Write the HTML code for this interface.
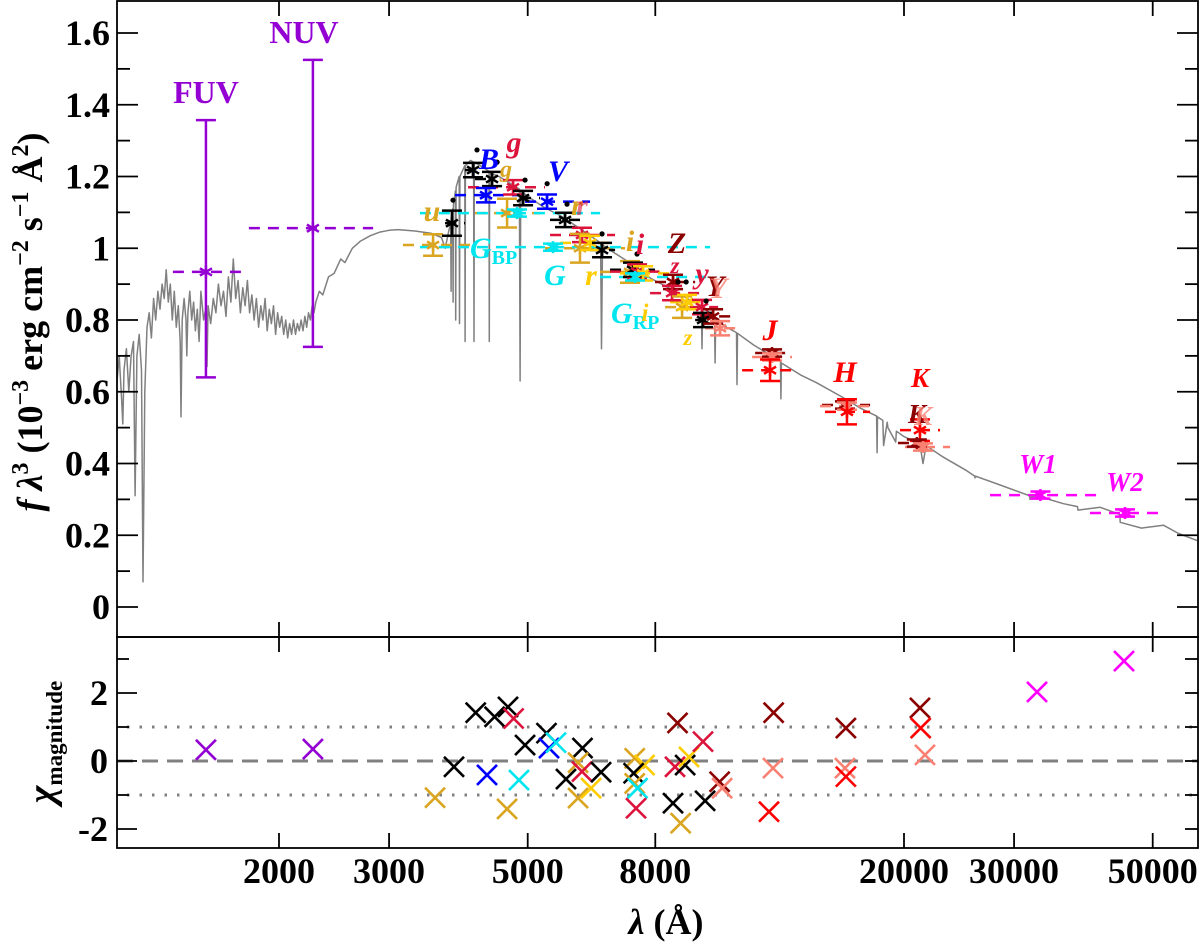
<!DOCTYPE html>
<html><head><meta charset="utf-8"><title>SED fit</title>
<style>
html,body{margin:0;padding:0;background:#fff;}
svg{display:block;font-family:"Liberation Serif","DejaVu Serif",serif;}
</style></head>
<body>
<svg id="chart" width="1200" height="944" viewBox="0 0 1200 944" xmlns="http://www.w3.org/2000/svg">
<defs><clipPath id="topclip"><rect x="117" y="1" width="1081" height="636"/></clipPath></defs>
<g id="spec" clip-path="url(#topclip)"></g>
<g id="bands"></g>
<g id="phot"></g>
<g id="dots"></g>
<g id="resid"></g>
<g id="axes"></g>
<g id="labels" font-weight="bold" font-size="30">
  <text x="206" y="103" fill="#9400D3" text-anchor="middle" font-size="32">FUV</text>
  <text x="304" y="43" fill="#9400D3" text-anchor="middle" font-size="32">NUV</text>
  <text x="432" y="221" fill="#DAA520" text-anchor="middle" font-style="italic">u</text>
  <text x="489" y="169" fill="#0000FF" text-anchor="middle" font-style="italic">B</text>
  <text x="514" y="152" fill="#DC143C" text-anchor="middle" font-style="italic">g</text>
  <text x="506" y="177" fill="#DAA520" text-anchor="middle" font-style="italic" font-size="24">g</text>
  <text x="558" y="181" fill="#0000FF" text-anchor="middle" font-style="italic">V</text>
  <text x="577" y="215" fill="#DAA520" text-anchor="middle" font-style="italic">r</text>
  <text x="582" y="215" fill="#DC143C" text-anchor="middle" font-style="italic" opacity="0.6">r</text>
  <text x="470" y="258" fill="#00E5EE" font-style="italic">G<tspan font-style="normal" font-size="20" dy="6">BP</tspan></text>
  <text x="555" y="285" fill="#00E5EE" text-anchor="middle" font-style="italic">G</text>
  <text x="591" y="285" fill="#FFCC00" text-anchor="middle" font-style="italic">r</text>
  <text x="630" y="251" fill="#DAA520" text-anchor="middle" font-style="italic">i</text>
  <text x="640" y="254" fill="#DC143C" text-anchor="middle" font-style="italic">i</text>
  <text x="677" y="253" fill="#8B0000" text-anchor="middle" font-style="italic">Z</text>
  <text x="675" y="273" fill="#DC143C" text-anchor="middle" font-style="italic" font-size="23">z</text>
  <text x="702" y="283" fill="#DC143C" text-anchor="middle" font-style="italic">y</text>
  <text x="715" y="296" fill="#8B0000" text-anchor="middle" font-style="italic">Y</text>
  <text x="718" y="298" fill="#FA8072" text-anchor="middle" font-style="italic" opacity="0.8">Y</text>
  <text x="611" y="323" fill="#00E5EE" font-style="italic">G<tspan font-style="normal" font-size="20" dy="6">RP</tspan></text>
  <text x="645" y="321" fill="#FFCC00" text-anchor="middle" font-style="italic" font-size="25">i</text>
  <text x="688" y="345" fill="#FFCC00" text-anchor="middle" font-style="italic" font-size="23">z</text>
  <text x="770" y="340" fill="#FF0000" text-anchor="middle" font-style="italic">J</text>
  <text x="845" y="382" fill="#FF0000" text-anchor="middle" font-style="italic">H</text>
  <text x="920" y="387" fill="#FF0000" text-anchor="middle" font-style="italic" font-size="27">K</text>
  <text x="917" y="423" fill="#8B0000" text-anchor="middle" font-style="italic" font-size="27">K</text>
  <text x="923" y="425" fill="#FA8072" text-anchor="middle" font-style="italic" font-size="27" opacity="0.8">K</text>
  <text x="1038" y="473" fill="#FF00FF" text-anchor="middle" font-style="italic" font-size="27">W1</text>
  <text x="1125" y="491" fill="#FF00FF" text-anchor="middle" font-style="italic" font-size="27">W2</text>
</g>
<text transform="translate(42,322) rotate(-90)" text-anchor="middle" font-size="36" font-weight="bold"><tspan font-style="italic">f λ</tspan><tspan font-size="24" dy="-14">3</tspan><tspan dy="14"> (10</tspan><tspan font-size="24" dy="-14">−3</tspan><tspan dy="14"> erg cm</tspan><tspan font-size="24" dy="-14">−2</tspan><tspan dy="14"> s</tspan><tspan font-size="24" dy="-14">−1</tspan><tspan dy="14"> Å</tspan><tspan font-size="24" dy="-14">2</tspan><tspan dy="14">)</tspan></text>
<text transform="translate(54,742) rotate(-90)" text-anchor="middle" font-size="38" font-weight="bold"><tspan font-style="italic">χ</tspan><tspan font-size="23" dy="8">magnitude</tspan></text>
<text x="666" y="934" text-anchor="middle" font-size="36" font-weight="bold"><tspan font-style="italic">λ</tspan> (Å)</text>
</svg>
<script>
// ---- model spectrum ----
const specLam = [1100,1110,1120,1125,1130,1140,1150,1160,1170,1177,1185,1195,1205,1212,1220,1230,1240,1250,1260,1270,1280,1290,1300,1310,1320,1330,1340,1350,1360,1370,1380,1390,1394,1400,1410,1420,1424,1430,1440,1450,1460,1470,1480,1490,1500,1515,1530,1534,1540,1555,1570,1585,1600,1615,1630,1645,1660,1675,1690,1705,1720,1735,1750,1765,1780,1795,1810,1825,1840,1855,1870,1885,1900,1915,1930,1945,1960,1975,1990,2005,2020,2035,2050,2065,2080,2095,2110,2125,2140,2155,2170,2185,2200,2215,2230,2245,2260,2275,
2290,2320,2350,2400,2450,2510,2550,2620,2700,2800,2900,3000,3100,3300,3500,3640,3690,3740,3765,3770,3775,3793,3798,3803,3830,3835,3840,3884,3889,3894,3965,3970,3975,4050,4097,4102,4107,4200,4335,4340,4345,4500,4850,4861,4872,5000,5300,5650,6000,6540,6563,6586,6700,7200,7850,8500,9000,9480,9503,9526,9950,9973,9996,10400,10790,10810,10830,11500,12690,12710,12730,13660,14500,16200,17000,18080,18110,18140,18500,18550,18800,18850,19400,19450,20000,21200,21450,21700,23000,25200,25950,25980,26010,28500,31780,31810,31840,33060,36000,37900,37950,41200,44300,44350,48000,52000,55000,58900];
const specFlux = [.62,.70,.58,.51,.66,.72,.60,.70,.74,.31,.70,.76,.66,.07,.60,.78,.82,.75,.86,.80,.88,.83,.90,.86,.94,.85,.90,.80,.88,.78,.84,.74,.53,.80,.86,.80,.70,.82,.88,.80,.85,.77,.83,.74,.88,.80,.84,.67,.84,.79,.86,.82,.90,.84,.88,.81,.92,.85,.97,.86,.91,.82,.89,.84,.91,.82,.87,.80,.86,.78,.84,.80,.86,.77,.83,.79,.84,.76,.82,.78,.81,.76,.80,.75,.79,.76,.80,.76,.79,.77,.80,.77,.81,.78,.82,.80,.84,.82,
.85,.88,.87,.92,.93,.97,.96,1.0,1.02,1.035,1.045,1.05,1.052,1.048,1.042,1.03,1.0,1.05,1.07,.88,1.08,1.11,.85,1.12,1.16,.80,1.17,1.2,.79,1.2,1.23,.74,1.23,1.245,1.24,.74,1.24,1.23,1.215,.74,1.21,1.2,1.165,.63,1.16,1.145,1.115,1.09,1.06,1.015,.72,1.01,1.0,.965,.917,.885,.86,.838,.72,.835,.81,.68,.805,.78,.765,.62,.763,.73,.685,.58,.68,.647,.625,.578,.555,.532,.43,.53,.52,.45,.515,.50,.46,.49,.475,.455,.40,.45,.42,.38,.365,.36,.365,.34,.31,.30,.307,.307,.288,.28,.27,.278,.258,.236,.22,.228,.205,.185,.175,.165];

// ---- photometry ----
const photLam  = [1528,2266,3528,3782,4088,4384,4288,4634,4737,4915,4806,5369,5737,6107,6062,5488,6291,6575,7289,7370,7480,7647,7425,8540,8510,8830,8990,9503,9538,9898,10157,12300,12300,12210,16090,16210,16210,21210,20970,21450,33060,45150];
const photFlux = [.934,1.056,1.009,1.07,1.218,1.193,1.148,1.098,1.17,1.14,1.098,1.13,1.079,1.037,1.0,1.003,1.015,.995,.934,.94,.935,.93,.92,.906,.875,.836,.85,.836,.80,.81,.777,.708,.697,.66,.563,.56,.544,.493,.457,.446,.312,.262];
const photErrLo = [.294,.331,.03,.035,.02,.02,.02,.04,.02,.02,.01,.02,.02,.02,.04,.01,.02,.02,.03,.02,.02,.02,.01,.02,.02,.03,.02,.02,.02,.02,.02,.01,.01,.03,.01,.01,.035,.03,.01,.01,.01,.01];
const photErrHi = [.423,.469,.03,.035,.02,.02,.02,.04,.02,.02,.01,.02,.02,.02,.04,.01,.02,.02,.03,.02,.02,.02,.01,.02,.02,.03,.02,.02,.02,.02,.02,.01,.01,.03,.01,.01,.035,.03,.01,.01,.01,.01];
const bandLo = [1353,1790,3158,3687,3969,4118,3825,4118,4013,4860,3361,4951,5428,5428,5329,3361,5632,6291,6528,6772,6772,7026,6528,7993,7848,8294,8448,9096,9265,9437,9612,11557,11430,11016,14786,14677,14950,19708,19561,20074,27462,39680];
const bandHi = [1784,2829,4042,3969,4118,4384,4860,5232,5329,5232,6528,6291,6075,6898,7157,9791,6898,6898,8142,7993,8294,8448,9791,9265,9437,9437,9612,10084,9791,10540,10736,13141,13238,13534,17650,17978,17650,22840,22424,23697,40868,52326];
const photColor = ["#9400D3","#9400D3","#DAA520","#000000","#000000","#000000","#0000FF","#DAA520","#DC143C","#000000","#00E5EE","#0000FF","#000000","#DC143C","#DAA520","#00E5EE","#FFCC00","#000000","#DAA520","#000000","#DC143C","#FFCC00","#00E5EE","#8B0000","#DC143C","#DAA520","#FFCC00","#DC143C","#000000","#8B0000","#FA8072","#8B0000","#FA8072","#FF0000","#8B0000","#FA8072","#FF0000","#FF0000","#8B0000","#FA8072","#FF00FF","#FF00FF"];

// ---- model synthetic photometry dots ----
const dotLam  = [3797,4148,4467,4951,5371,5779,6575,7480,8700,8963,9648];
const dotFlux = [1.134,1.274,1.24,1.19,1.18,1.123,1.04,.984,.906,.906,.853];

// ---- residuals ----
const chiLam = [1528,2266,3554,3811,4128,4426,4650,4747,4304,4634,4951,4842,5358,5408,5549,6118,5757,6019,6107,6019,6315,6552,7416,7689,7387,7416,7494,7452,8683,8603,8930,9058,9538,8540,8783,9612,10140,10234,12372,12343,12163,16145,16090,16145,21210,21268,21608,32646,44982];
const chiVal = [.33,.35,-1.08,-.17,1.42,1.3,1.59,1.25,-.41,-1.41,.47,-.56,.82,.38,.54,.38,-.53,-.05,-.31,-1.09,-.8,-.33,.08,-.12,-.36,-.66,-.8,-1.39,1.12,-.17,-.12,.12,.57,-1.24,-1.83,-1.17,-.61,-.8,1.42,-.21,-1.49,.97,-.21,-.46,1.56,.97,.18,2.03,2.94];
const chiColor = ["#9400D3","#9400D3","#DAA520","#000000","#000000","#000000","#000000","#DC143C","#0000FF","#DAA520","#000000","#00E5EE","#000000","#0000FF","#00E5EE","#000000","#000000","#DAA520","#DC143C","#DAA520","#FFCC00","#000000","#DAA520","#FFCC00","#000000","#DAA520","#00E5EE","#DC143C","#8B0000","#DC143C","#000000","#FFCC00","#DC143C","#000000","#DAA520","#000000","#8B0000","#FA8072","#8B0000","#FA8072","#FF0000","#8B0000","#FA8072","#FF0000","#8B0000","#FF0000","#FA8072","#FF00FF","#FF00FF"];

// ---- ticks ----
const xTicks = [2000,3000,5000,8000,20000,30000,50000];
const xTickLabels = ["2000","3000","5000","8000","20000","30000","50000"];
const yTicks = [0,0.2,0.4,0.6,0.8,1,1.2,1.4,1.6];
const yTickLabels = ["0","0.2","0.4","0.6","0.8","1","1.2","1.4","1.6"];
const chiTicks = [-2,0,2];
const chiTickLabels = ["-2","0","2"];

const NS = "http://www.w3.org/2000/svg";
const L = 117, R = 1198, T = 1, MID = 637, B = 848;
function X(l){ return 279 + 625*(Math.log10(l) - Math.log10(2000)); }
function Y(f){ return 607 - 358.75*f; }
function C(c){ return 761 - 34*c; }
function mk(tag, attrs, parent){
  const e = document.createElementNS(NS, tag);
  for (const k in attrs) e.setAttribute(k, attrs[k]);
  parent.appendChild(e); return e;
}
const gSpec = document.getElementById('spec'), gBands = document.getElementById('bands'),
      gPhot = document.getElementById('phot'), gDots = document.getElementById('dots'),
      gRes = document.getElementById('resid'), gAx = document.getElementById('axes');

{
  const n = Math.min(specLam.length, specFlux.length);
  let d = "";
  for (let i = 0; i < n; i++) d += (i ? "L" : "M") + X(specLam[i]).toFixed(1) + "," + Y(specFlux[i]).toFixed(1);
  const p = mk('path', {d:d, fill:'none', stroke:'#808080', 'stroke-width':1.5, 'stroke-linejoin':'round'}, gSpec);
  
  
}
for (let i = 0; i < photLam.length; i++){
  const col = photColor[i], x = X(photLam[i]), y = Y(photFlux[i]);
  const b = mk('line', {x1:X(bandLo[i]), x2:X(bandHi[i]), y1:y, y2:y, stroke:col, 'stroke-width':2.5, 'stroke-dasharray':'11 8'}, gBands);
  
  
  const g = mk('g', {stroke:col, 'stroke-width':2.5, fill:'none'}, gPhot);
  
  
  const yl = Y(photFlux[i]-photErrLo[i]), yh = Y(photFlux[i]+photErrHi[i]);
  const cw = 10;
  mk('line', {x1:x, x2:x, y1:yl, y2:yh}, g);
  mk('line', {x1:x-cw, x2:x+cw, y1:yl, y2:yl}, g);
  mk('line', {x1:x-cw, x2:x+cw, y1:yh, y2:yh}, g);
  const s = 6;
  mk('line', {x1:x-s, x2:x+s, y1:y-s*0.6, y2:y+s*0.6}, g);
  mk('line', {x1:x-s, x2:x+s, y1:y+s*0.6, y2:y-s*0.6}, g);
  mk('line', {x1:x, x2:x, y1:y-s, y2:y+s}, g);
}
for (let i = 0; i < dotLam.length; i++){
  const c = mk('circle', {cx:X(dotLam[i]), cy:Y(dotFlux[i]), r:2.6, fill:'#000'}, gDots);
  
  
}
{
  const z = mk('line', {x1:L, x2:R, y1:C(0), y2:C(0), stroke:'#808080', 'stroke-width':3, 'stroke-dasharray':'16 9'}, gRes);
  
  
  for (const v of [1,-1]){
    const d = mk('line', {x1:L+10, x2:R, y1:C(v), y2:C(v), stroke:'#808080', 'stroke-width':3, 'stroke-dasharray':'2.5 10'}, gRes);
    
    
  }
}
for (let i = 0; i < chiLam.length; i++){
  const x = X(chiLam[i]), y = C(chiVal[i]), h = 10;
  const g = mk('g', {stroke:chiColor[i], 'stroke-width':2.6}, gRes);
  
  
  mk('line', {x1:x-h, y1:y-h, x2:x+h, y2:y+h}, g);
  mk('line', {x1:x-h, y1:y+h, x2:x+h, y2:y-h}, g);
}
for (const [y1,y2] of [[T,MID],[MID,B]]){
  const r = mk('rect', {x:L, y:y1, width:R-L, height:y2-y1, fill:'none', stroke:'#000', 'stroke-width':1.8}, gAx);
  
  
}
xTicks.forEach((v,i)=>{
  const x = X(v);
  for (const [y0,dir] of [[T,1],[MID,-1],[MID,1],[B,-1]])
    mk('line', {x1:x, x2:x, y1:y0, y2:y0+dir*15, stroke:'#000', 'stroke-width':1.8}, gAx);
  const t = mk('text', {x:x, y:883, 'text-anchor':'middle', 'font-size':36, 'font-weight':'bold'}, gAx);
  
  
  t.textContent = xTickLabels[i];
});
for (let k = 0; k <= 16; k++){
  const v = k/10, y = Y(v), len = (k%2===0)?21:13;
  mk('line', {x1:L, x2:L+len, y1:y, y2:y, stroke:'#000', 'stroke-width':1.8}, gAx);
  mk('line', {x1:R, x2:R-len, y1:y, y2:y, stroke:'#000', 'stroke-width':1.8}, gAx);
}
yTicks.forEach((v,i)=>{
  const t = mk('text', {x:110, y:Y(v)+12, 'text-anchor':'end', 'font-size':36, 'font-weight':'bold'}, gAx);
  
  
  t.textContent = yTickLabels[i];
});
for (let v = -2; v <= 3; v++){
  const y = C(v), len = (v%2===0)?20:12;
  mk('line', {x1:L, x2:L+len, y1:y, y2:y, stroke:'#000', 'stroke-width':1.8}, gAx);
  mk('line', {x1:R, x2:R-13, y1:y, y2:y, stroke:'#000', 'stroke-width':1.8}, gAx);
}
chiTicks.forEach((v,i)=>{
  const t = mk('text', {x:108, y:C(v)+12, 'text-anchor':'end', 'font-size':36, 'font-weight':'bold'}, gAx);
  
  
  t.textContent = chiTickLabels[i];
});
</script>
</body></html>
